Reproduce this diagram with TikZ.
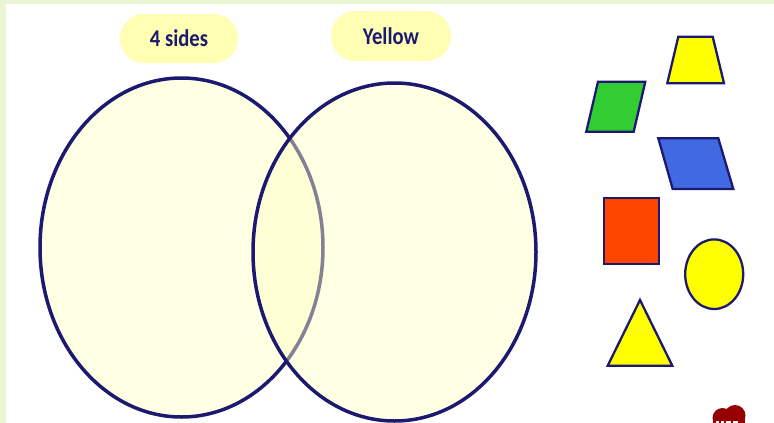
\documentclass[tikz,border=0pt]{standalone}
\usepackage{fontspec}
\setmainfont{Carlito}
\definecolor{navy}{RGB}{28,26,112}
\definecolor{bordergreen}{RGB}{234,245,214}
\definecolor{pill}{RGB}{255,255,180}
\definecolor{vennfill}{RGB}{255,255,196}
\definecolor{shapeyellow}{RGB}{255,255,0}
\definecolor{shapegreen}{RGB}{50,205,50}
\definecolor{shapeblue}{RGB}{65,105,225}
\definecolor{shapered}{RGB}{255,69,0}
\definecolor{logored}{RGB}{150,0,0}
\newcommand{\condensed}[1]{\scalebox{0.86}[1]{#1}}
\tikzset{
  pilllabel/.style={fill=pill, rounded corners=24pt, minimum width=118pt, minimum height=49pt,
    inner sep=0pt, text=navy, font=\fontsize{24}{28}\selectfont\bfseries},
  vennset/.style={draw=navy, line width=3.5pt, fill=vennfill, fill opacity=0.45},
  solid shape/.style={draw=navy, line width=2.3pt, line join=miter},
}
\begin{document}
\begin{tikzpicture}[x=1pt,y=-1pt]
\useasboundingbox (0,0) rectangle (774,423);
\fill[white] (0,0) rectangle (774,423);
% border
\fill[bordergreen] (0,0) rectangle (774,4);
\fill[bordergreen] (0,0) rectangle (6,423);
% venn
\draw[vennset] (181.5,247.5) ellipse [x radius=141.5pt, y radius=169.5pt];
\draw[vennset] (394.5,252) ellipse [x radius=141.5pt, y radius=169pt];
% labels
\node[pilllabel] (sides) at (179,38.5) {\condensed{4 sides}};
\node[pilllabel, minimum width=120pt, minimum height=50pt, rounded corners=25pt] (yellow) at (391,36) {\condensed{Yellow}};
% shapes
\draw[solid shape, fill=shapeyellow] (678.3,36.7) -- (712.7,36.7) -- (724,83.3) -- (667.3,83.3) -- cycle;
\draw[solid shape, fill=shapegreen] (598,81.7) -- (645.3,81.7) -- (633.7,131.7) -- (586.3,131.7) -- cycle;
\draw[solid shape, fill=shapeblue] (658.3,138.3) -- (718.3,138.3) -- (733.3,189) -- (672.7,189) -- cycle;
\draw[solid shape, fill=shapered] (604,198.3) rectangle (659,264.3);
\draw[solid shape, fill=shapeyellow] (714.2,274.2) ellipse [x radius=29pt, y radius=34.8pt];
\draw[solid shape, fill=shapeyellow] (640,300) -- (672.3,365.7) -- (607.7,365.7) -- cycle;
% logo fragment
\begin{scope}
\clip (0,0) rectangle (774,423);
\fill[logored] (722.5,418) circle (10pt);
\fill[logored] (735,415.5) circle (10.5pt);
\fill[logored] (713,418) rectangle (745,430);
\fill[white] (716,421) rectangle (719,423);
\fill[white] (721,421) rectangle (724,423);
\fill[white] (726,421) rectangle (731,423);
\fill[white] (733,421) rectangle (738,423);
\end{scope}
\end{tikzpicture}
\end{document}
